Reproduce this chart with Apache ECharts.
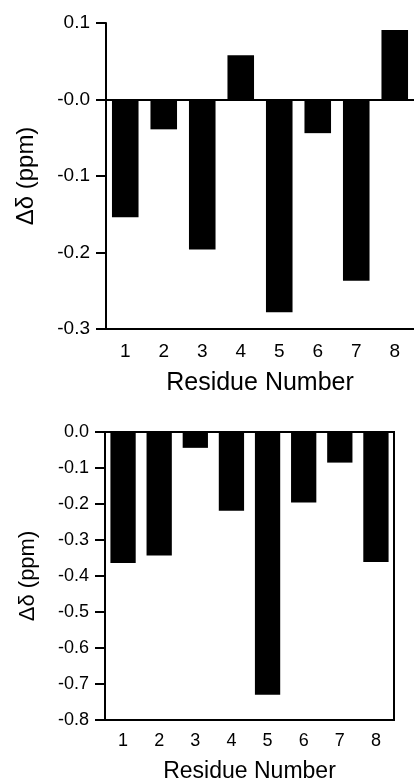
<!DOCTYPE html>
<html>
<head>
<meta charset="utf-8">
<script src="https://cdn.jsdelivr.net/npm/echarts@6/dist/echarts.min.js"></script>
<style>
html,body{margin:0;padding:0;background:#fff;}
#chart{width:414px;height:779px;}
</style>
</head>
<body>
<div id="chart"></div>
<script>
var residues = ['1','2','3','4','5','6','7','8'];
var topValues = [-0.154, -0.039, -0.196, 0.058, -0.278, -0.044, -0.237, 0.091];
var bottomValues = [-0.364, -0.343, -0.044, -0.219, -0.730, -0.196, -0.085, -0.361];
var topTickLabels = {'0.1':'0.1','0':'-0.0','-0.1':'-0.1','-0.2':'-0.2','-0.3':'-0.3'};
var bottomTickLabels = {'0':'0.0','-0.1':'-0.1','-0.2':'-0.2','-0.3':'-0.3','-0.4':'-0.4','-0.5':'-0.5','-0.6':'-0.6','-0.7':'-0.7','-0.8':'-0.8'};
var xName = 'Residue Number';
var yName = 'Δδ (ppm)';

var FONT = 'Liberation Sans, Arial, Helvetica, sans-serif';
var chart = echarts.init(document.getElementById('chart'), null, {renderer:'canvas'});

function fmt(map){
  return function(v){ var k = String(Math.round(v*10)/10); if (k === '-0') k = '0'; return map[k] !== undefined ? map[k] : v.toFixed(1); };
}
var axisLine = {show:true, lineStyle:{color:'#000', width:2}};

chart.setOption({
  animation:false,
  backgroundColor:'#fff',
  grid:[
    {left:106, right:0, top:23, height:306, containLabel:false, outerBoundsMode:'none'},
    {left:105, right:20, top:432, height:288, containLabel:false, outerBoundsMode:'none', show:true, borderColor:'#000', borderWidth:2}
  ],
  xAxis:[
    {type:'category', gridIndex:0, data:residues, position:'bottom',
     axisLine:{show:true, onZero:false, lineStyle:{color:'#000', width:2}},
     axisTick:{show:false},
     axisLabel:{color:'#000', fontSize:19, fontFamily:FONT, margin:13},
     name:xName, nameLocation:'middle', nameGap:42,
     nameTextStyle:{color:'#000', fontSize:25, fontFamily:FONT}},
    {type:'category', gridIndex:0, data:residues, position:'top',
     axisLine:{show:true, lineStyle:{color:'#000', width:2}},
     axisTick:{show:false}, axisLabel:{show:false}},
    {type:'category', gridIndex:1, data:residues, position:'bottom',
     axisLine:{show:true, onZero:false, lineStyle:{color:'#000', width:2}},
     axisTick:{show:false},
     axisLabel:{color:'#000', fontSize:18, fontFamily:FONT, margin:12},
     name:xName, nameLocation:'middle', nameGap:40,
     nameTextStyle:{color:'#000', fontSize:23, fontFamily:FONT}}
  ],
  yAxis:[
    {type:'value', gridIndex:0, min:-0.3, max:0.1, interval:0.1,
     axisLine:axisLine,
     axisTick:{show:true, inside:false, length:10, lineStyle:{color:'#000', width:2}},
     axisLabel:{color:'#000', fontSize:19, fontFamily:FONT, margin:16, formatter:fmt(topTickLabels)},
     splitLine:{show:false},
     name:yName, nameLocation:'middle', nameGap:68,
     nameTextStyle:{color:'#000', fontSize:24, fontFamily:FONT}},
    {type:'value', gridIndex:1, min:-0.8, max:0, interval:0.1,
     axisLine:axisLine,
     axisTick:{show:true, inside:false, length:10, lineStyle:{color:'#000', width:2}},
     axisLabel:{color:'#000', fontSize:18, fontFamily:FONT, margin:16, formatter:fmt(bottomTickLabels)},
     splitLine:{show:false},
     name:yName, nameLocation:'middle', nameGap:66,
     nameTextStyle:{color:'#000', fontSize:22, fontFamily:FONT}}
  ],
  series:[
    {type:'bar', xAxisIndex:0, yAxisIndex:0, data:topValues, barCategoryGap:'31%',
     itemStyle:{color:'#000'},
     markLine:{silent:true, symbol:['none','none'], label:{show:false},
       lineStyle:{color:'#000', width:2, type:'solid'}, data:[{yAxis:0}]}},
    {type:'bar', xAxisIndex:2, yAxisIndex:1, data:bottomValues, barCategoryGap:'30%',
     itemStyle:{color:'#000'}}
  ]
});
</script>
</body>
</html>
